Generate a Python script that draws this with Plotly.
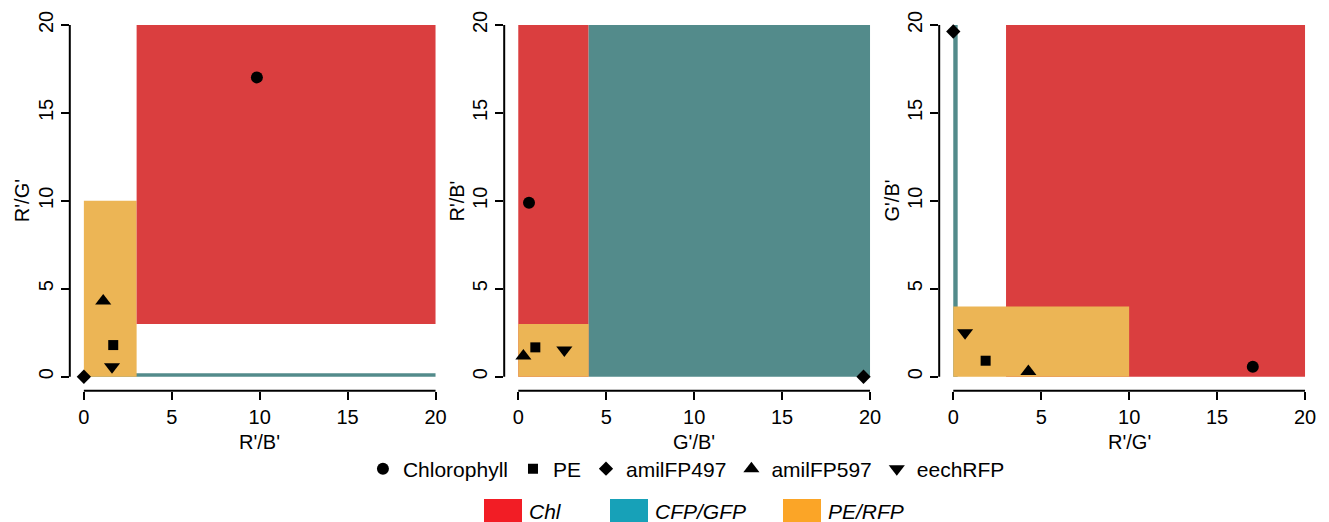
import plotly.graph_objects as go

# ---------------- data ----------------
pigments = ["Chlorophyll", "PE", "amilFP497", "amilFP597", "eechRFP"]
symbols = ["circle", "square", "diamond", "triangle-up", "triangle-down"]
marker_sizes = [12, 10, 11, 14, 14]

x_titles = ["R'/B'", "G'/B'", "R'/G'"]
y_titles = ["R'/G'", "R'/B'", "G'/B'"]

# panel 1: x = R'/B', y = R'/G'
p1_x = [9.84, 1.67, 0.0, 1.10, 1.60]
p1_y = [17.02, 1.80, 0.0, 4.30, 0.57]
# panel 2: x = G'/B', y = R'/B'
p2_x = [0.61, 0.97, 19.63, 0.29, 2.62]
p2_y = [9.89, 1.67, 0.0, 1.18, 1.52]
# panel 3: x = R'/G', y = G'/B'
p3_x = [17.03, 1.84, 0.0, 4.27, 0.67]
p3_y = [0.57, 0.91, 19.63, 0.30, 2.50]

ticks = [0, 5, 10, 15, 20]

# classification regions (panel, class, x0, x1, y0, y1), drawn in order
region_panel = [1, 1, 1, 2, 2, 2, 3, 3, 3]
region_class = ["CFP/GFP", "PE/RFP", "Chl",
                "Chl", "CFP/GFP", "PE/RFP",
                "CFP/GFP", "Chl", "PE/RFP"]
region_x0 = [0, 0, 3, 0, 4, 0, 0, 3, 0]
region_x1 = [20, 3, 20, 4, 20, 4, 0.25, 20, 10]
region_y0 = [0, 0, 3, 0, 0, 0, 0, 0, 0]
region_y1 = [0.2, 10, 20, 20, 20, 3, 20, 20, 4]

classes = ["Chl", "CFP/GFP", "PE/RFP"]
class_fill = {"Chl": "#DA3E3F", "CFP/GFP": "#538B8B", "PE/RFP": "#ECB555"}
class_legend_color = ["#F21D25", "#17A1B8", "#FBA527"]

# ---------------- layout constants ----------------
W, H = 1329, 522
axis_range = [-0.8, 20.8]
axis_line_px = [69.8, 504.2, 939.2]
x_domains = [[69.8 / W, 449.6 / W], [504.2 / W, 884.1 / W], [939.2 / W, 1319.1 / W]]
y_domain = [1 - 390.8 / H, 1 - 10.9 / H]
FONT = "Liberation Sans, Arial, Helvetica, sans-serif"

panels_x = [p1_x, p2_x, p3_x]
panels_y = [p1_y, p2_y, p3_y]

fig = go.Figure()

for p in range(3):
    ax = "" if p == 0 else str(p + 1)
    for i, name in enumerate(pigments):
        fig.add_trace(go.Scatter(
            x=[panels_x[p][i]], y=[panels_y[p][i]],
            mode="markers",
            marker=dict(symbol=symbols[i], size=marker_sizes[i], color="black"),
            name=name, legendgroup=name, showlegend=(p == 0),
            xaxis="x" + ax, yaxis="y" + ax, cliponaxis=False,
            hoverinfo="name+x+y",
        ))

shapes = []
annotations = []
# regions
for k in range(len(region_panel)):
    ax = "" if region_panel[k] == 1 else str(region_panel[k])
    shapes.append(dict(
        type="rect", xref="x" + ax, yref="y" + ax,
        x0=region_x0[k], x1=region_x1[k], y0=region_y0[k], y1=region_y1[k],
        fillcolor=class_fill[region_class[k]], line=dict(width=0), layer="below",
    ))

# R-style axis lines spanning first..last tick, and axis titles
for p in range(3):
    ax = "" if p == 0 else str(p + 1)
    shapes.append(dict(type="line", xref="x" + ax, yref="y" + ax + " domain",
                       x0=ticks[0], x1=ticks[-1], y0=0, y1=0,
                       line=dict(color="black", width=2)))
    shapes.append(dict(type="line", xref="x" + ax + " domain", yref="y" + ax,
                       x0=0, x1=0, y0=ticks[0], y1=ticks[-1],
                       line=dict(color="black", width=2)))
    annotations.append(dict(xref="x" + ax, yref="paper",
                            x=(ticks[0] + ticks[-1]) / 2, y=1 - 442 / H,
                            xanchor="center", yanchor="middle", showarrow=False,
                            text=x_titles[p],
                            font=dict(size=20, family=FONT, color="black")))
    annotations.append(dict(xref="paper", yref="y" + ax,
                            x=(axis_line_px[p] - 47.5) / W, y=(ticks[0] + ticks[-1]) / 2,
                            xanchor="center", yanchor="middle", showarrow=False,
                            textangle=-90, text=y_titles[p],
                            font=dict(size=20, family=FONT, color="black")))

# second legend row: class swatches
swatch_x = [484, 610, 783]
swatch_w = 38
for j, c in enumerate(classes):
    shapes.append(dict(type="rect", xref="paper", yref="paper",
                       x0=swatch_x[j] / W, x1=(swatch_x[j] + swatch_w) / W,
                       y0=1 - 524 / H, y1=1 - 499 / H,
                       fillcolor=class_legend_color[j], line=dict(width=0)))
    annotations.append(dict(xref="paper", yref="paper",
                            x=(swatch_x[j] + swatch_w + 5) / W, y=1 - 511 / H,
                            xanchor="left", yanchor="middle", showarrow=False,
                            text="<i>" + c + "</i>",
                            font=dict(size=21, family=FONT, color="black")))

layout = dict(
    width=W, height=H,
    margin=dict(l=0, r=0, t=0, b=0),
    paper_bgcolor="white", plot_bgcolor="white",
    font=dict(family=FONT, size=20, color="black"),
    shapes=shapes, annotations=annotations,
    showlegend=True,
    legend=dict(orientation="h", x=0.5165, xanchor="center", y=1 - 469 / H,
                yanchor="middle", font=dict(size=21, family=FONT),
                itemsizing="trace", itemwidth=30, bgcolor="rgba(0,0,0,0)"),
)

for p in range(3):
    ax = "" if p == 0 else str(p + 1)
    layout["xaxis" + ax] = dict(
        domain=x_domains[p], range=axis_range, anchor="y" + ax,
        tickmode="array", tickvals=ticks, ticktext=[str(t) for t in ticks],
        ticks="outside", ticklen=8, tickwidth=2, tickcolor="black",
        showline=False, showgrid=False, zeroline=False,
        tickfont=dict(size=20),
    )
    layout["yaxis" + ax] = dict(
        domain=y_domain, range=axis_range, anchor="x" + ax,
        tickmode="array", tickvals=ticks, ticktext=[str(t) for t in ticks],
        ticks="outside", ticklen=8, tickwidth=2, tickcolor="black", tickangle=-90,
        showline=False, showgrid=False, zeroline=False,
        tickfont=dict(size=20),
    )

fig.update_layout(**layout)
fig.write_html("out.html", config={"displayModeBar": False},
               post_script="document.body.style.margin='0px';")
